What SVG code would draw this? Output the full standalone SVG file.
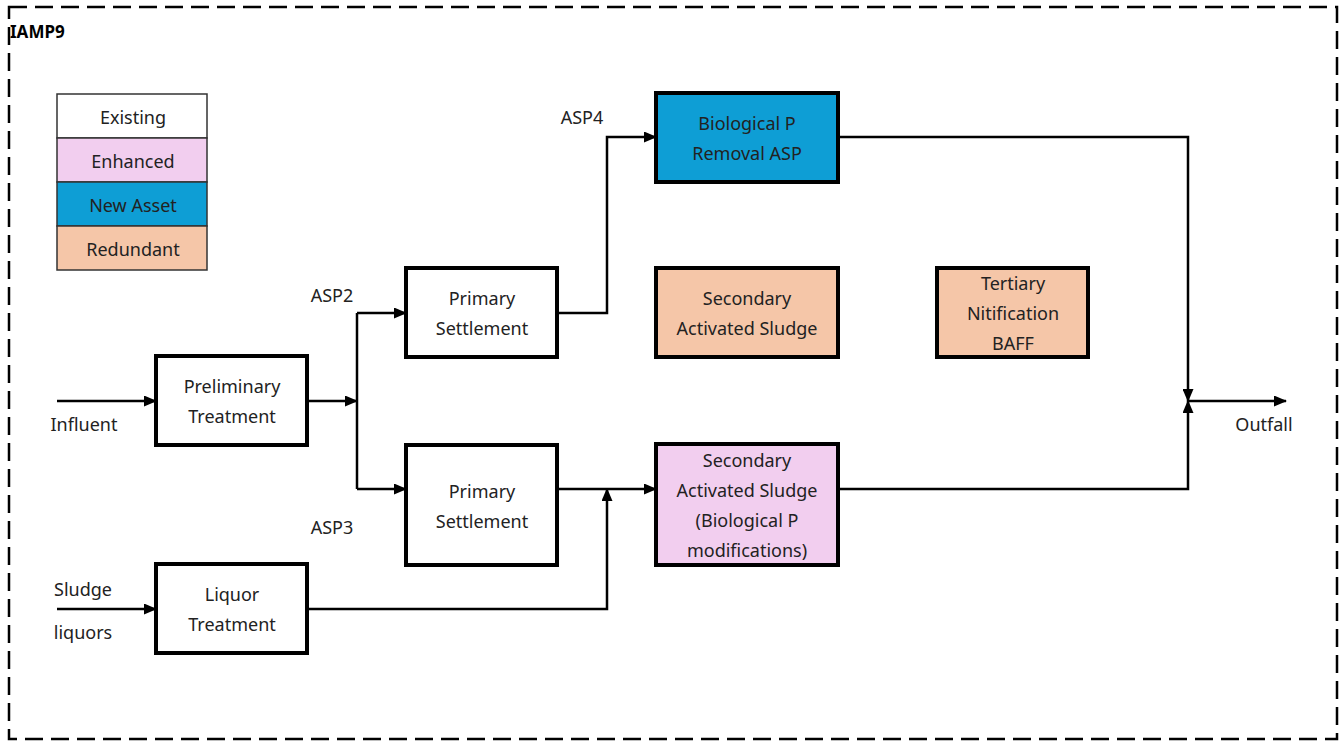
<svg xmlns="http://www.w3.org/2000/svg" width="1342" height="742" viewBox="0 0 1342 742">
<defs>
<marker id="ah" markerWidth="13" markerHeight="11" refX="12" refY="5.5" orient="auto" markerUnits="userSpaceOnUse">
<path d="M0,0 L13,5.5 L0,11 Z" fill="#000"/>
</marker>
<style>
text{font-family:"Noto Sans","Liberation Sans",sans-serif;font-size:18px;fill:#222;text-anchor:middle}
.lbl{text-anchor:start}
.box{stroke:#000;stroke-width:4}
.leg{stroke:#333;stroke-width:1.5}
.c{fill:none;stroke:#000;stroke-width:2.5}
</style>
</defs>
<rect width="1342" height="742" fill="#fff"/>
<rect x="9" y="7" width="1328" height="732" fill="none" stroke="#000" stroke-width="2.5" stroke-dasharray="18,8"/>
<text x="10" y="38" class="lbl" style="font-weight:bold;font-size:17px;fill:#000">IAMP9</text>

<g id="legend">
<rect x="57" y="94" width="150" height="44" fill="#fff" class="leg"/>
<rect x="57" y="138" width="150" height="44" fill="#F2CEEF" class="leg"/>
<rect x="57" y="182" width="150" height="44" fill="#0E9ED5" class="leg"/>
<rect x="57" y="226" width="150" height="44" fill="#F5C6A8" class="leg"/>
<text x="133" y="124">Existing</text>
<text x="133" y="168">Enhanced</text>
<text x="133" y="212">New Asset</text>
<text x="133" y="256">Redundant</text>
</g>

<g id="connectors">
<line x1="57" y1="401" x2="156" y2="401" class="c" marker-end="url(#ah)"/>
<line x1="307" y1="401" x2="357" y2="401" class="c" marker-end="url(#ah)"/>
<line x1="357" y1="313" x2="357" y2="489" class="c"/>
<path d="M357,313 H406" class="c" marker-end="url(#ah)"/>
<path d="M357,489 H406" class="c" marker-end="url(#ah)"/>
<path d="M557,313 H607 V137 H656" class="c" marker-end="url(#ah)"/>
<path d="M557,489 H656" class="c" marker-end="url(#ah)"/>
<line x1="57" y1="609" x2="156" y2="609" class="c" marker-end="url(#ah)"/>
<path d="M307,609 H607 V489" class="c" marker-end="url(#ah)"/>
<path d="M838,137 H1188 V401" class="c" marker-end="url(#ah)"/>
<path d="M838,489 H1188 V401" class="c" marker-end="url(#ah)"/>
<path d="M1188,401 H1286" class="c" marker-end="url(#ah)"/>
</g>

<g id="labels">
<text x="84" y="431">Influent</text>
<text x="83" y="596">Sludge</text>
<text x="83" y="639">liquors</text>
<text x="1264" y="431">Outfall</text>
<text x="332" y="302">ASP2</text>
<text x="332" y="534">ASP3</text>
<text x="582" y="124">ASP4</text>
</g>

<g id="preliminary">
<rect x="156" y="356" width="151" height="89" fill="#fff" class="box"/>
<text x="232" y="393">Preliminary</text>
<text x="232" y="423">Treatment</text>
</g>
<g id="liquor">
<rect x="156" y="564" width="151" height="89" fill="#fff" class="box"/>
<text x="232" y="601">Liquor</text>
<text x="232" y="631">Treatment</text>
</g>
<g id="primary1">
<rect x="406" y="268" width="151" height="89" fill="#fff" class="box"/>
<text x="482" y="305">Primary</text>
<text x="482" y="335">Settlement</text>
</g>
<g id="primary2">
<rect x="406" y="445" width="151" height="120" fill="#fff" class="box"/>
<text x="482" y="498">Primary</text>
<text x="482" y="528">Settlement</text>
</g>
<g id="biop">
<rect x="656" y="93" width="182" height="89" fill="#0E9ED5" class="box"/>
<text x="747" y="130">Biological P</text>
<text x="747" y="160">Removal ASP</text>
</g>
<g id="sas-redundant">
<rect x="656" y="268" width="182" height="89" fill="#F5C6A8" class="box"/>
<text x="747" y="305">Secondary</text>
<text x="747" y="335">Activated Sludge</text>
</g>
<g id="baff">
<rect x="937" y="268" width="151" height="89" fill="#F5C6A8" class="box"/>
<text x="1013" y="290">Tertiary</text>
<text x="1013" y="320">Nitification</text>
<text x="1013" y="350">BAFF</text>
</g>
<g id="sas-enhanced">
<rect x="656" y="444" width="182" height="121" fill="#F2CEEF" class="box"/>
<text x="747" y="467">Secondary</text>
<text x="747" y="497">Activated Sludge</text>
<text x="747" y="527">(Biological P</text>
<text x="747" y="557">modifications)</text>
</g>
</svg>
